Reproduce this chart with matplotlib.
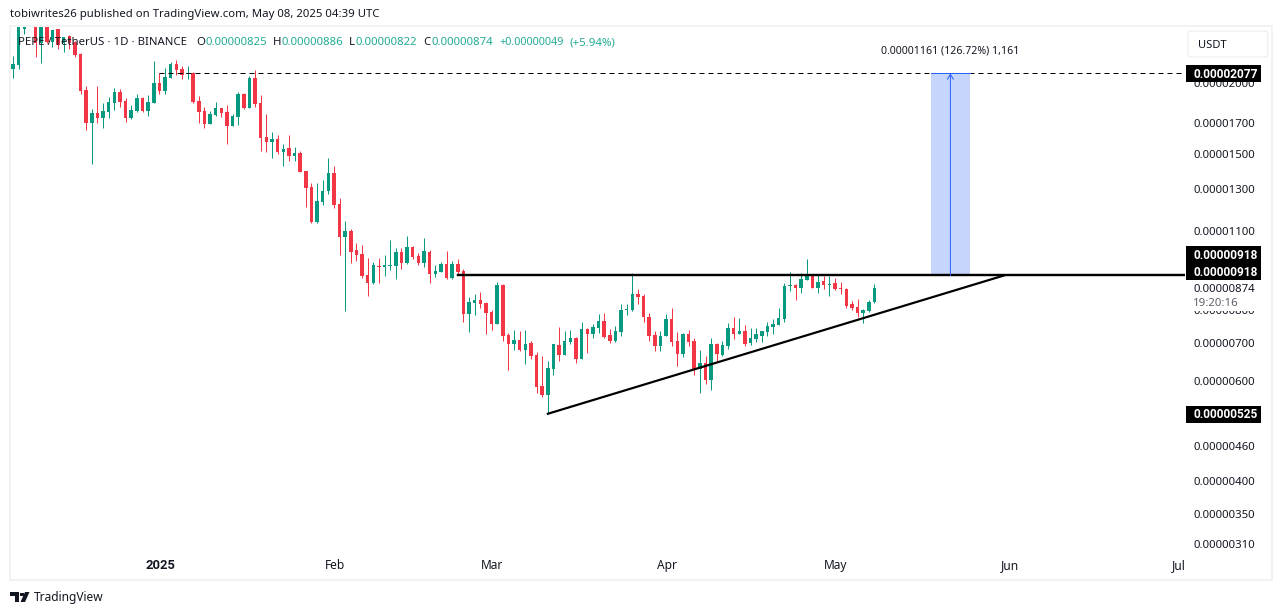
import numpy as np
import pandas as pd
import matplotlib
matplotlib.use('Agg')
import matplotlib.pyplot as plt
import matplotlib.dates as mdates
from matplotlib.patches import Rectangle, FancyBboxPatch, Polygon

plt.rcParams['font.family'] = ['Noto Sans', 'DejaVu Sans']

# prices in units of 0.00000001 USDT
dates = pd.date_range('2024-12-06', periods=154)
opens = [2115,2150,2486,2700,2620,2350,2620,2359,2486,2350,
         2416,2359,2248,1943,1700,1771,1735,1778,1843,1927,
         1858,1735,1785,1881,1785,1843,1999,1935,2040,2159,
         2115,2073,2081,1858,1785,1694,1756,1807,1778,1680,
         1742,1912,1807,2040,1843,1607,1575,1594,1512,1537,
         1488,1506,1400,1313,1140,1236,1292,1389,1226,1073,
         1099,1018,1002,920,890,954,950,954,954,1010,
         966,1030,994,966,1010,923,931,962,909,962,
         935,786,821,831,821,792,755,883,722,696,
         707,679,699,666,588,567,629,693,666,701,
         713,655,740,725,743,764,722,704,731,799,
         799,852,845,776,722,690,719,770,704,668,
         725,704,629,644,602,696,666,690,743,725,
         734,699,710,719,731,746,752,770,880,883,
         873,901,916,873,898,883,890,873,869,818,
         808,789,795,825]
highs = [2230,2640,2620,2750,2700,2680,2680,2476,2486,2407,
         2426,2369,2257,1975,1799,1975,1843,1889,1959,1951,
         1881,1829,1912,1889,1904,2185,2081,2124,2176,2194,
         2141,2141,2090,1897,1814,1785,1851,1807,1829,1763,
         1927,1920,2056,2107,1904,1763,1640,1620,1562,1620,
         1543,1519,1400,1334,1334,1350,1476,1429,1256,1144,
         1108,1047,1039,986,969,986,998,1060,1026,1026,
         1077,1034,1006,1068,1018,958,969,1014,973,982,
         942,841,852,859,825,799,894,887,728,737,
         734,737,704,674,663,650,696,746,734,737,
         716,761,743,755,786,789,740,749,818,818,
         927,869,852,789,734,734,786,805,731,728,
         737,713,679,663,713,699,704,758,776,773,
         752,743,743,734,761,770,805,890,931,887,
         927,982,920,920,916,916,909,894,873,828,
         835,802,831,886]
lows = [2040,2115,2436,2540,2221,2167,2350,2312,2293,2266,
        2293,2221,1912,1653,1441,1700,1667,1735,1792,1814,
        1707,1728,1778,1778,1749,1843,1912,1912,2040,2065,
        2031,2031,1843,1700,1667,1694,1749,1742,1562,1680,
        1687,1799,1807,1814,1519,1512,1476,1500,1429,1458,
        1458,1395,1211,1135,1135,1221,1276,1206,998,795,
        966,973,909,845,887,890,916,939,905,942,
        962,982,958,950,890,912,931,905,905,920,
        761,731,783,805,725,737,755,704,627,679,
        676,642,655,571,562,525,614,650,666,696,
        644,655,671,713,728,713,699,701,719,783,
        795,818,761,704,676,676,719,690,637,660,
        690,614,571,592,578,647,663,682,710,725,
        690,693,701,701,719,725,752,761,862,831,
        855,901,873,855,869,845,866,852,805,799,
        776,758,792,822]
closes = [2159,2560,2540,2600,2350,2600,2359,2476,2331,2407,
          2350,2239,1935,1700,1771,1735,1785,1851,1927,1851,
          1735,1792,1881,1785,1851,1999,1935,2048,2159,2107,
          2065,2081,1851,1778,1694,1763,1807,1771,1680,1749,
          1912,1807,2040,1836,1600,1575,1594,1512,1531,1488,
          1506,1395,1308,1140,1241,1292,1389,1221,1073,1099,
          1010,998,916,890,958,950,958,958,1010,966,
          1030,990,966,1014,923,935,962,909,962,931,
          786,825,831,818,789,755,883,719,696,707,
          679,696,663,585,567,632,696,666,704,713,
          655,740,725,746,764,716,704,734,799,802,
          852,841,776,719,690,719,770,701,668,725,
          701,629,644,602,696,668,693,743,725,734,
          696,713,725,734,749,755,773,880,883,873,
          905,920,873,894,883,887,869,869,811,805,
          789,799,825,874]

price_ticks = [2000, 1700, 1500, 1300, 1100, 800, 700, 600, 460, 400, 350, 310]
month_ticks = ['2025-01-01', '2025-02-01', '2025-03-01', '2025-04-01',
               '2025-05-01', '2025-06-01', '2025-07-01']
month_labels = ['2025', 'Feb', 'Mar', 'Apr', 'May', 'Jun', 'Jul']

target = 2077
breakout = 918
support_low = 525
last_close = 874

UNIT = 1e-8
W, H = 1281, 615
GREEN, RED = '#089981', '#f23645'
TEXT_GREEN = '#22ab94'
DARK = '#131722'
BLUE = '#2962ff'
PX = 0.72  # one pixel in points at dpi 100


def fx(x):
    return x / W


def fy(y):
    return 1 - y / H


def add_text(x, y, s, **kw):
    kw.setdefault('color', DARK)
    kw.setdefault('fontsize', 8.2)
    kw.setdefault('va', 'center')
    kw.setdefault('zorder', 10)
    fig.text(fx(x), fy(y + 1.2), s, **kw)


fig = plt.figure(figsize=(W / 100, H / 100), dpi=100)
ax = fig.add_axes([fx(11), fy(551), fx(1185 - 11), (551 - 27) / H])

x = mdates.date2num(dates)
o, h, l, c = [np.array(a) * UNIT for a in (opens, highs, lows, closes)]
colors = np.where(c >= o, GREEN, RED)

ax.vlines(x, l, h, colors=colors, linewidth=1 * PX, zorder=2)
ax.bar(x, np.abs(c - o), bottom=np.minimum(o, c), width=0.62, color=colors,
       linewidth=0, zorder=3)

ax.set_yscale('log')
ax.set_ylim(301.5 * UNIT, 2506 * UNIT)
last = x[-1]
ax.set_xlim(last - (874.4 - 11) / 5.63, last + (1185 - 874.4) / 5.63)

# drawings
d = mdates.date2num(pd.to_datetime(['2025-01-01', '2025-02-23', '2025-03-11',
                                    '2025-05-18', '2025-05-25', '2025-05-31']))
ax.plot([d[0], ax.get_xlim()[1]], [target * UNIT] * 2, color='black', lw=1 * PX,
        linestyle=(0, (5, 4)), zorder=4)
ax.fill_between([d[3], d[4]], breakout * UNIT, target * UNIT, color='#c6d5fc',
                linewidth=0, zorder=5)
ax.plot([d[3], d[4]], [target * UNIT] * 2, color=BLUE, lw=1 * PX, zorder=6)
ax.plot([d[1], ax.get_xlim()[1]], [breakout * UNIT] * 2, color='black', lw=2.4 * PX, zorder=7)
ax.plot([d[2], d[5]], [support_low * UNIT, breakout * UNIT], color='black', lw=2.2 * PX, zorder=7)
mid = (d[3] + d[4]) / 2
ax.annotate('', xy=(mid, target * UNIT), xytext=(mid, breakout * UNIT),
            arrowprops=dict(arrowstyle='->,head_length=0.35,head_width=0.22', color=BLUE,
                            lw=1 * PX, shrinkA=0, shrinkB=0), zorder=8)
ax.annotate('0.00001161 (126.72%) 1,161', xy=(mid, target * UNIT), xytext=(0, 22),
            textcoords='offset pixels', ha='center', va='center', fontsize=7.6, color=DARK)

for s in ax.spines.values():
    s.set_visible(False)
ax.yaxis.tick_right()
ax.yaxis.set_major_locator(matplotlib.ticker.FixedLocator([p * UNIT for p in price_ticks]))
ax.yaxis.set_major_formatter(matplotlib.ticker.FuncFormatter(lambda v, pos: f'{v:.8f}'))
ax.yaxis.set_minor_locator(matplotlib.ticker.NullLocator())
ax.tick_params(axis='y', length=0, pad=8 * PX, labelsize=8.2, labelcolor=DARK)
ax.set_xticks(mdates.date2num(pd.to_datetime(month_ticks)) + 0.15)
ax.set_xticklabels(month_labels)
ax.tick_params(axis='x', length=0, pad=6, labelsize=8.6, labelcolor=DARK)
ax.get_xticklabels()[0].set_fontfamily('Roboto')
ax.get_xticklabels()[0].set_fontweight('bold')
ax.get_xticklabels()[0].set_fontsize(9.4)

# frame around the chart
fig.add_artist(Rectangle((fx(10), fy(580)), fx(1262), 554 / H, transform=fig.transFigure,
                         fill=False, edgecolor='#f2f2f2', linewidth=2 * PX, zorder=1))


# price labels on the right
def y_of(price):
    disp = ax.transData.transform((last, price * UNIT))[1]
    return H - disp


def tag(y1, y2, color='black'):
    fig.add_artist(Rectangle((fx(1186), fy(y2)), fx(75), (y2 - y1) / H, transform=fig.transFigure,
                             facecolor=color, edgecolor='none', zorder=8))


white_bold = dict(color='white', fontweight='bold', family='Roboto', fontsize=8.6)
tag(65, 82)
add_text(1193, 73.5, f'{target * UNIT:.8f}', **white_bold)
tag(246, 280)
add_text(1193, 254.5, f'{breakout * UNIT:.8f}', **white_bold)
add_text(1193, 271.5, f'{breakout * UNIT:.8f}', **white_bold)
tag(406, 423)
add_text(1193, y_of(support_low), f'{support_low * UNIT:.8f}', **white_bold)
tag(281, 310.5, color='white')
add_text(1193, 288, f'{last_close * UNIT:.8f}')
add_text(1193, 302.5, '19:20:16', color='#5d606b')

# currency button
fig.add_artist(FancyBboxPatch((fx(1190), fy(56)), fx(76), 24 / H,
                              boxstyle='round,pad=0.0015', transform=fig.transFigure,
                              facecolor='white', edgecolor='#ebebeb', linewidth=1 * PX, zorder=8))
add_text(1198, 44, 'USDT', fontsize=8)

# header
add_text(10, 13.5, 'tobiwrites26 published on TradingView.com, May 08, 2025 04:39 UTC', fontsize=8.2)
add_text(18, 41.5, 'PEPE / TetherUS · 1D · BINANCE')
for x0, s in [(196, 'O'), (273, 'H'), (349, 'L'), (423, 'C')]:
    add_text(x0, 41.5, s)
for x0, s in [(205, opens[-1]), (281, highs[-1]), (356, lows[-1]), (431, closes[-1])]:
    add_text(x0, 41.5, f'{s * UNIT:.8f}', color=TEXT_GREEN)
add_text(499, 41.5, f'+{(closes[-1] - opens[-1]) * UNIT:.8f}', color=TEXT_GREEN, fontsize=7.8)
add_text(570, 41.5, '(+5.94%)', color=TEXT_GREEN)

# logo and footer
fig.add_artist(Polygon([(fx(10), fy(592)), (fx(19), fy(592)), (fx(19), fy(602)), (fx(15), fy(602)),
                        (fx(15), fy(596)), (fx(10), fy(596))], closed=True,
                       transform=fig.transFigure, facecolor=DARK, edgecolor='none', zorder=8))
fig.add_artist(Polygon([(fx(25), fy(592)), (fx(29.5), fy(592)), (fx(25), fy(602)), (fx(20.5), fy(602))],
                       closed=True, transform=fig.transFigure, facecolor=DARK, edgecolor='none', zorder=8))
fig.add_artist(Rectangle((fx(20), fy(596)), fx(3.5), 3.5 / H, transform=fig.transFigure,
                         facecolor=DARK, edgecolor='none', zorder=8))
add_text(34, 596.5, 'TradingView', fontsize=8.6)

fig.savefig('out.png', dpi=100)
